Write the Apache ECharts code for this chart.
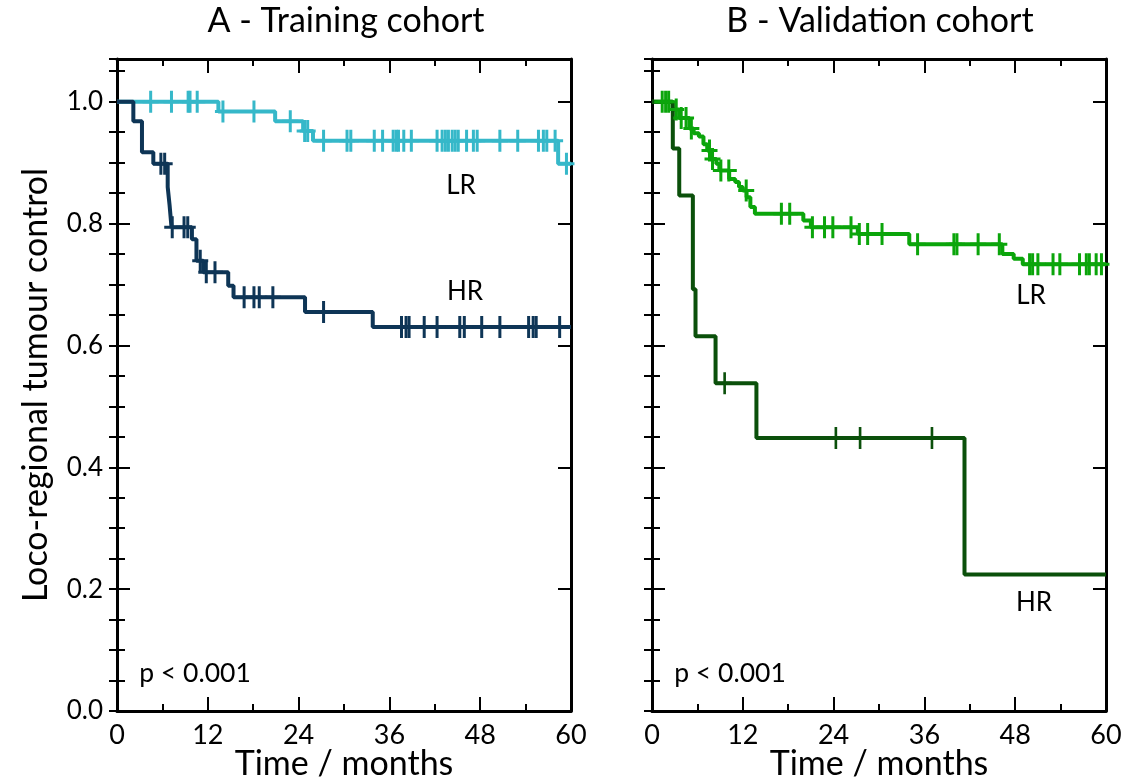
<!DOCTYPE html>
<html>
<head>
<meta charset="utf-8">
<script src="https://cdn.jsdelivr.net/npm/echarts@6/dist/echarts.min.js"></script>
<style>html,body{margin:0;padding:0;background:#fff}#c{width:1127px;height:784px}</style>
</head>
<body>
<div id="c"></div>
<script>
// ---------- data ----------
const panelTitles = ['A - Training cohort', 'B - Validation cohort'];
const xTicks = [0, 12, 24, 36, 48, 60];
const yTickLabels = [0.0, 0.2, 0.4, 0.6, 0.8, 1.0];
const groupLabels = ['LR', 'HR'];
const pText = 'p < 0.001';

// Kaplan-Meier steps [time, survival]
const trainLR = [[0,1],[13.4,0.984],[20.9,0.968],[24.6,0.952],[25.9,0.936],[58.3,0.898],[60,0.898]];
const trainLRCens = [4.45,7.2,9.4,9.65,10.6,14.0,18.1,22.9,24.8,25.2,27.3,30.4,30.9,34.0,35.1,36.5,36.9,37.2,37.9,38.9,42.3,42.97,43.4,43.8,44.3,44.7,45.1,46.2,47.1,47.6,50.6,52.96,55.7,56.35,56.8,57.9,59.4];

const trainHR = [[0,1],[2.16,0.968],[3.3,0.917],[4.8,0.898],[6.7,0.86],[6.95,0.83],[7.2,0.794],[9.9,0.774],[10.5,0.739],[11.4,0.72],[14.7,0.698],[15.4,0.679],[24.85,0.655],[33.8,0.63],[60,0.63]];
const trainHRCens = [5.8,6.3,7.3,8.86,9.35,11.0,11.8,12.95,16.8,18.1,18.8,20.6,27.3,37.6,38.2,38.6,40.6,42.3,45.3,45.9,48.2,50.6,54.4,55.0,55.4,58.5];

const validLR = [[0,1],[2.7,0.987],[3.6,0.973],[4.95,0.956],[5.5,0.948],[6.2,0.943],[6.8,0.93],[7.3,0.92],[7.7,0.906],[8.5,0.898],[8.9,0.887],[10.2,0.873],[11.0,0.868],[11.5,0.86],[12.0,0.854],[12.5,0.843],[13.0,0.827],[13.6,0.816],[20.0,0.805],[21.0,0.794],[27.2,0.783],[34.0,0.766],[46.3,0.75],[47.8,0.742],[49.0,0.733],[60,0.733]];
const validLRCens = [1.35,1.8,2.2,3.2,3.86,4.5,5.2,7.6,8.0,9.1,10.15,12.45,17.1,18.2,21.2,22.8,23.9,26.3,27.4,28.5,30.4,35.1,39.9,40.3,43.1,45.9,49.9,50.3,51.0,53.0,53.9,56.5,57.4,57.8,58.7,59.4];

const validHR = [[0,1],[2.75,0.923],[3.6,0.846],[5.4,0.692],[5.75,0.615],[8.4,0.538],[13.8,0.448],[41.3,0.224],[60,0.224]];
const validHRCens = [9.6,24.3,27.5,37.0];

// ---------- helpers ----------
function survAt(steps, t) {
  let s = steps[0][1];
  for (const p of steps) { if (p[0] <= t) s = p[1]; else break; }
  return s;
}
function cens(steps, times) { return times.map(t => [t, survAt(steps, t)]); }

const FONT = 'Lato, "Open Sans", sans-serif';
const BLK = '#000';
const plus = 'path://M6.5,0 L9.5,0 L9.5,9.5 L16,9.5 L16,12.5 L9.5,12.5 L9.5,22 L6.5,22 L6.5,12.5 L0,12.5 L0,9.5 L6.5,9.5 Z';

const grids = [
  {left:117, top:59, width:454, height:652, outerBoundsMode:'none', containLabel:false},
  {left:652, top:59, width:454, height:652, outerBoundsMode:'none', containLabel:false}
];

const xAxes = [], yAxes = [];
grids.forEach((g, gi) => {
  const tickStyle = {color:BLK, width:2};
  const lineStyle = {color:BLK, width:3};
  ['bottom','top'].forEach(pos => {
    xAxes.push({
      gridIndex: gi, type:'value', position: pos, min:0, max:60, interval:12,
      axisLine:{show:true, onZero:false, lineStyle},
      axisTick:{show:true, inside:true, length:14, lineStyle:tickStyle},
      minorTick:{show:true, splitNumber:2, length:7, lineStyle:tickStyle},
      splitLine:{show:false}, minorSplitLine:{show:false},
      axisLabel:{show: pos==='bottom', fontSize:27, color:BLK, fontFamily:FONT, margin:11,
                 customValues: xTicks},
      name: pos==='bottom' ? 'Time / months' : '',
      nameLocation:'middle', nameGap:36, nameMoveOverlap:false,
      nameTextStyle:{fontSize:34, color:BLK, fontFamily:FONT}
    });
  });
  ['left','right'].forEach(pos => {
    yAxes.push({
      gridIndex: gi, type:'value', position: pos, min:0, max:1.07, interval:0.2,
      axisLine:{show:true, onZero:false, lineStyle},
      axisTick:{show:true, inside:true, length:13, lineStyle:tickStyle},
      splitLine:{show:false},
      axisLabel:{show: gi===0 && pos==='left', fontSize:26, color:BLK, fontFamily:FONT, margin:14,
                 showMaxLabel:false, formatter: v => yTickLabels.some(y => Math.abs(y - v) < 1e-6) ? v.toFixed(1) : ''},
      name: (gi===0 && pos==='left') ? 'Loco-regional tumour control' : '',
      nameLocation:'middle', nameGap:64, nameMoveOverlap:false,
      nameTextStyle:{fontSize:34, color:BLK, fontFamily:FONT}
    });
    yAxes.push({
      gridIndex: gi, type:'value', position: pos, min:0, max:1.07, interval:0.05,
      axisLine:{show:false},
      axisTick:{show:true, inside:true, length:8, lineStyle:tickStyle},
      splitLine:{show:false}, axisLabel:{show:false}
    });
  });
});

function kmSeries(data, color, xi, yi, w) {
  return {type:'line', step:'end', data, xAxisIndex:xi, yAxisIndex:yi, symbol:'none',
          lineStyle:{color, width:w}, itemStyle:{color}, animation:false, z:3};
}
function censSeries(data, color, xi, yi, size) {
  return {type:'scatter', data, xAxisIndex:xi, yAxisIndex:yi, symbol:plus, symbolSize:size,
          itemStyle:{color, opacity:1}, animation:false, z:4};
}

const cLR1 = '#36B8C9', cHR1 = '#0E3556', cLR2 = '#0BA50B', cHR2 = '#0B500B';

const series = [
  kmSeries(trainLR, cLR1, 0, 0, 4),
  censSeries(cens(trainLR, trainLRCens), cLR1, 0, 0, [16, 22]),
  kmSeries(trainHR, cHR1, 0, 0, 4),
  censSeries(cens(trainHR, trainHRCens), cHR1, 0, 0, [16, 22]),
  kmSeries(validLR, cLR2, 2, 4, 4),
  censSeries(cens(validLR, validLRCens), cLR2, 2, 4, [16, 22]),
  kmSeries(validHR, cHR2, 2, 4, 4),
  censSeries(cens(validHR, validHRCens), cHR2, 2, 4, [14, 22])
];

const txt = (x, y, text, size) => ({type:'text', x, y, style:{text, font: size + 'px ' + FONT, fill:BLK, textAlign:'center', textVerticalAlign:'middle'}});

const chart = echarts.init(document.getElementById('c'), null, {renderer:'canvas'});
chart.setOption({
  animation:false,
  backgroundColor:'#fff',
  grid: grids,
  xAxis: xAxes,
  yAxis: yAxes,
  series,
  graphic: [
    txt(346, 21, panelTitles[0], 34),
    txt(880, 21, panelTitles[1], 34),
    txt(195, 673, pText, 26.5),
    txt(730, 673, pText, 26.5),
    txt(461, 186, groupLabels[0], 26),
    txt(465, 292, groupLabels[1], 26),
    txt(1031, 296, groupLabels[0], 26),
    txt(1034, 603, groupLabels[1], 26)
  ]
});
</script>
</body>
</html>
